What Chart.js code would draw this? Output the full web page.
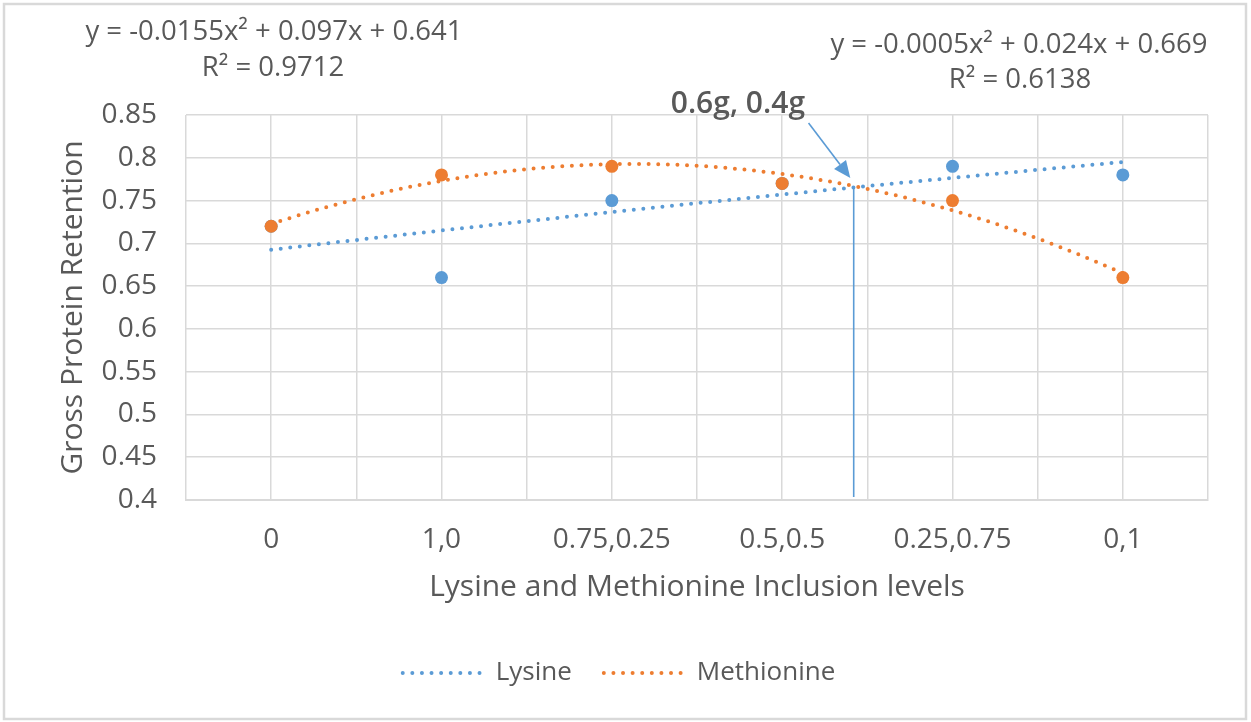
<!DOCTYPE html>
<html>
<head>
<meta charset="utf-8">
<script src="https://cdn.jsdelivr.net/npm/chart.js@4.4.1/dist/chart.umd.min.js"></script>
<style>
  html, body { margin: 0; padding: 0; background: #fff; }
  #wrap { width: 1251px; height: 722px; position: relative; }
</style>
</head>
<body>
<div id="wrap"><canvas id="myChart"></canvas></div>
<script>
// inclusion levels (Lysine, Methionine)
const categories = ['0', '1,0', '0.75,0.25', '0.5,0.5', '0.25,0.75', '0,1'];
const lysine = [0.72, 0.66, 0.75, 0.77, 0.79, 0.78];
const methionine = [0.72, 0.78, 0.79, 0.77, 0.75, 0.66];

// polynomial trendlines: [x², x, constant]
const lysineFit = [-0.0005, 0.024, 0.669];
const methionineFit = [-0.0155, 0.097, 0.641];
const lysineR2 = '0.6138';
const methionineR2 = '0.9712';

const yTicks = [0.4, 0.45, 0.5, 0.55, 0.6, 0.65, 0.7, 0.75, 0.8, 0.85];

// marked optimum on the chart
const optimumX = 4.42;
const optimumLabel = '0.6g, 0.4g';

const BLUE = '#5b9bd5';
const ORANGE = '#ed7d31';
const TEXT = '#595959';
const GRID = '#d9d9d9';
const FONT = "'Open Sans', sans-serif";
const DOTS = [0, 9.6];

function points(values) {
  return values.map((v, i) => ({ x: i + 1, y: v }));
}

function curve(c) {
  const pts = [];
  for (let i = 0; i <= 100; i++) {
    const x = 1 + i * 0.05;
    pts.push({ x: x, y: c[0] * x * x + c[1] * x + c[2] });
  }
  return pts;
}

function eqText(c) {
  const f = (v) => (v < 0 ? '-' : '') + Math.abs(v);
  return 'y = ' + f(c[0]) + 'x\u00B2 + ' + c[1] + 'x + ' + c[2];
}

const extras = {
  id: 'extras',
  beforeDraw(chart) {
    const ctx = chart.ctx;
    ctx.save();
    ctx.fillStyle = '#fff';
    ctx.fillRect(0, 0, chart.width, chart.height);
    ctx.strokeStyle = GRID;
    ctx.lineWidth = 2.5;
    ctx.strokeRect(4, 4, chart.width - 9, chart.height - 7);
    ctx.restore();
  },
  afterDatasetsDraw(chart) {
    const ctx = chart.ctx;
    const xs = chart.scales.x, ys = chart.scales.y;
    const area = chart.chartArea;

    // vertical marker at the optimum
    const cross = lysineFit[0] * optimumX * optimumX + lysineFit[1] * optimumX + lysineFit[2];
    const px = xs.getPixelForValue(optimumX);
    ctx.save();
    ctx.strokeStyle = BLUE;
    ctx.lineWidth = 1.6;
    ctx.beginPath();
    ctx.moveTo(px, ys.getPixelForValue(cross));
    ctx.lineTo(px, area.bottom - 3);
    ctx.stroke();

    // arrow pointing at the crossing
    const x0 = xs.getPixelForValue(4.155), y0 = ys.getPixelForValue(0.8407);
    const x1 = xs.getPixelForValue(4.40), y1 = ys.getPixelForValue(0.7763);
    const ang = Math.atan2(y1 - y0, x1 - x0);
    const hl = 17, hw = 7.5;
    const bx = x1 - hl * Math.cos(ang), by = y1 - hl * Math.sin(ang);
    ctx.beginPath();
    ctx.moveTo(x0, y0);
    ctx.lineTo(bx, by);
    ctx.stroke();
    ctx.fillStyle = BLUE;
    ctx.beginPath();
    ctx.moveTo(x1, y1);
    ctx.lineTo(bx + hw * Math.sin(ang), by - hw * Math.cos(ang));
    ctx.lineTo(bx - hw * Math.sin(ang), by + hw * Math.cos(ang));
    ctx.closePath();
    ctx.fill();

    ctx.fillStyle = TEXT;
    ctx.textAlign = 'center';
    ctx.textBaseline = 'middle';
    ctx.font = '600 30px ' + FONT;
    ctx.fillText(optimumLabel, xs.getPixelForValue(3.74), ys.getPixelForValue(0.8625));

    // trendline equations
    ctx.font = '27.5px ' + FONT;
    ctx.fillText(eqText(methionineFit), 274, 32);
    ctx.fillText('R\u00B2 = ' + methionineR2, 273, 68);
    ctx.fillText(eqText(lysineFit), 1019, 45);
    ctx.fillText('R\u00B2 = ' + lysineR2, 1020, 80);
    ctx.restore();
  }
};

const dotted = { borderWidth: 4, borderDash: DOTS, borderCapStyle: 'round', pointRadius: 0, fill: false, tension: 0 };

const ctx = document.getElementById('myChart').getContext('2d');

new Chart(ctx, {
  type: 'scatter',
  data: {
    datasets: [
      { label: 'Methionine points', data: points(methionine), backgroundColor: ORANGE, borderColor: ORANGE, pointRadius: 6.5, pointBorderWidth: 0, order: 0 },
      { label: 'Lysine points', data: points(lysine), backgroundColor: BLUE, borderColor: BLUE, pointRadius: 6.5, pointBorderWidth: 0, order: 1 },
      Object.assign({ label: 'Lysine', type: 'line', data: curve(lysineFit), borderColor: BLUE, backgroundColor: BLUE, order: 2 }, dotted),
      Object.assign({ label: 'Methionine', type: 'line', data: curve(methionineFit), borderColor: ORANGE, backgroundColor: ORANGE, order: 3 }, dotted)
    ]
  },
  options: {
    responsive: true,
    maintainAspectRatio: false,
    animation: false,
    layout: { padding: { top: 115, left: 30, right: 43, bottom: 26 } },
    plugins: {
      tooltip: { enabled: false },
      legend: {
        position: 'bottom',
        labels: {
          generateLabels: (chart) => {
            const items = Chart.defaults.plugins.legend.labels.generateLabels(chart)
              .filter((item) => item.text === 'Lysine' || item.text === 'Methionine');
            items.forEach((item) => {
              item.lineDash = DOTS;
              item.lineCap = 'round';
              item.lineWidth = 4;
            });
            return items;
          },
          usePointStyle: true,
          pointStyle: 'line',
          pointStyleWidth: 80,
          boxHeight: 26,
          padding: 32,
          color: TEXT,
          font: { family: FONT, size: 26 }
        }
      }
    },
    scales: {
      x: {
        type: 'linear',
        min: 0.5,
        max: 6.5,
        afterBuildTicks: (axis) => {
          const t = [];
          for (let v = 0.5; v <= 6.5; v += 0.5) t.push({ value: v });
          axis.ticks = t;
        },
        afterFit: (axis) => { axis.height = 128; },
        grid: { color: GRID, lineWidth: 1.5, drawTicks: false },
        border: { color: GRID, width: 2 },
        ticks: {
          autoSkip: false,
          maxRotation: 0,
          padding: 23,
          color: TEXT,
          font: { family: FONT, size: 28 },
          callback: (v) => Number.isInteger(v) ? categories[v - 1] : ''
        },
        title: {
          display: true,
          text: 'Lysine and Methionine Inclusion levels',
          color: TEXT,
          font: { family: FONT, size: 30 },
          padding: { top: 0, bottom: 23 }
        }
      },
      y: {
        min: 0.4,
        max: 0.85,
        afterBuildTicks: (axis) => { axis.ticks = yTicks.map((v) => ({ value: v })); },
        afterFit: (axis) => { axis.width = 156; },
        grid: { color: GRID, lineWidth: 1.5, drawTicks: false },
        border: { display: false },
        ticks: {
          padding: 29,
          color: TEXT,
          font: { family: FONT, size: 28 },
          callback: (v) => String(v)
        },
        title: {
          display: true,
          text: 'Gross Protein Retention',
          color: TEXT,
          font: { family: FONT, size: 30 },
          padding: { top: 25, bottom: 0 }
        }
      }
    }
  },
  plugins: [extras]
});
</script>
</body>
</html>
